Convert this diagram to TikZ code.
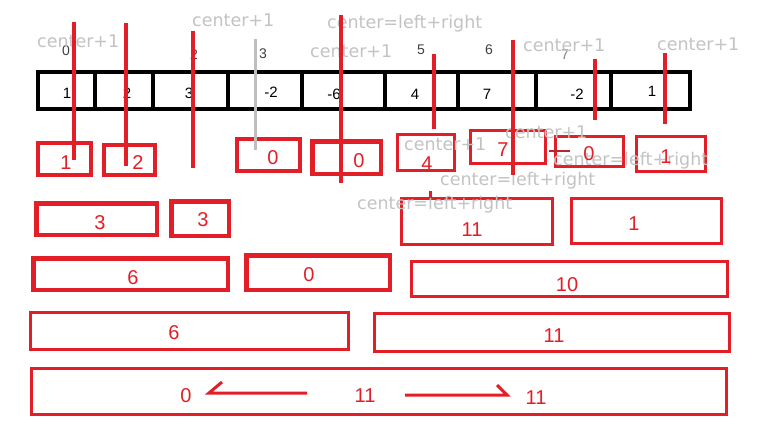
\documentclass[tikz,border=0pt]{standalone}
\usepackage{fontspec}
\setmainfont{DejaVu Sans}
\newfontfamily\digfont{Liberation Sans}
\usetikzlibrary{fit}
\definecolor{redc}{RGB}{226,31,38}
\definecolor{darkred}{RGB}{180,40,45}
\definecolor{grayt}{RGB}{195,195,195}
\definecolor{grayl}{RGB}{190,190,190}
\definecolor{idxc}{RGB}{64,64,64}
\tikzset{
 rbox/.style={draw=redc, inner sep=0pt, outer sep=0pt},
 cellbox/.style={draw=black, line width=4pt, inner sep=0pt, outer sep=0pt},
 note/.style={text=grayt, font=\fontsize{17.5}{20}\selectfont, anchor=base west, inner sep=0pt},
 rnum/.style={text=redc, font=\digfont\fontsize{20}{22}\selectfont, inner sep=0pt},
 cval/.style={text=black, font=\digfont\fontsize{15}{17}\selectfont, inner sep=0pt},
 idx/.style={text=idxc, font=\digfont\fontsize{14}{16}\selectfont, inner sep=0pt},
 rline/.style={draw=redc, line width=3.5pt},
 gline/.style={draw=grayl, line width=3pt},
 halfarrow/.style={draw=redc, line width=3pt, line join=miter},
}
\newcommand\rbx[6]{\node[rbox, line width=#6pt, fit={({#2+#6/2},{#3+#6/2}) ({#4-#6/2},{#5-#6/2})}] (#1) {};}
\newcommand\cellx[3]{\node[cellbox, fit={(#2,72) (#3,109)}] (#1) {};}
\begin{document}
\begin{tikzpicture}[x=1pt,y=-1pt]
\fill[white] (0,0) rectangle (772,439);
\useasboundingbox (0,0) rectangle (772,439);
% array cells
\cellx{c0}{38}{95}
\cellx{c1}{95}{153}
\cellx{c2}{153}{228}
\cellx{c3}{228}{302}
\cellx{c4}{302}{385}
\cellx{c5}{385}{458}
\cellx{c6}{458}{536}
\cellx{c7}{536}{611}
\cellx{c8}{611}{690}
% cell values
\node[cval] (v0) at (67,93) {1};
\node[cval] (v1) at (127,93) {2};
\node[cval] (v2) at (189,93) {3};
\node[cval] (v3) at (271,92) {-2};
\node[cval] (v4) at (334,94) {-6};
\node[cval] (v5) at (415,94) {4};
\node[cval] (v6) at (487,94) {7};
\node[cval] (v7) at (577,94) {-2};
\node[cval] (v8) at (652,91) {1};
% indices
\node[idx] (i0) at (66,51) {0};
\node[idx] (i2) at (194,55) {2};
\node[idx] (i3) at (263,54) {3};
\node[idx] (i5) at (421,50) {5};
\node[idx] (i6) at (489,50) {6};
\node[idx, text=gray] (i7) at (565,55) {7};
% red boxes row 1
\rbx{a1}{36}{141}{93}{177}{4}
\rbx{a2}{102}{143}{157}{177}{4}
\rbx{a3}{235}{137}{302}{173}{4}
\rbx{a4}{310}{139}{383}{176}{4.5}
\rbx{a5}{396}{133}{456}{172}{3}
\rbx{a6}{469}{129}{547}{165}{3}
\rbx{a7}{554}{135}{625}{168}{3}
\rbx{a8}{635}{135}{707}{173}{3}
% row 2
\rbx{b1}{34}{201}{159}{237}{4.5}
\rbx{b2}{169}{199}{231}{238}{4.5}
\rbx{b3}{400}{197}{554}{246}{3}
\rbx{b4}{570}{197}{723}{245}{3}
% row 3
\rbx{d1}{31}{256}{230}{292}{4.5}
\rbx{d2}{244}{253}{392}{292}{4.5}
\rbx{d3}{410}{260}{729}{298}{3}
% row 4
\rbx{e1}{29}{311}{350}{351}{3}
\rbx{e2}{373}{312}{731}{353}{3}
% row 5
\rbx{f1}{30}{367}{728}{416}{3}
% gray notes
\node[note] (n1) at (37,47) {center+1};
\node[note] (n2) at (192,27) {center+1};
\node[note] (n3) at (327,28) {center=left+right};
\node[note] (n4) at (310,57) {center+1};
\node[note] (n5) at (523,52) {center+1};
\node[note] (n6) at (657,50) {center+1};
\node[note] (n7) at (404,150) {center+1};
\node[note] (n8) at (505,138) {center+1};
\node[note] (n9) at (440,185) {center=left+right};
\node[note] (n10) at (357,209) {center=left+right};
\node[note] (n11) at (553,165) {center=left+right};
% red numbers
\node[rnum] (r1) at (66,163) {1};
\node[rnum] (r2) at (138,163) {2};
\node[rnum] (r3) at (273,158) {0};
\node[rnum] (r4) at (359,161) {0};
\node[rnum] (r5) at (427,164) {4};
\node[rnum] (r6) at (503,150) {7};
\node[rnum] (r7) at (589,154) {0};
\node[rnum] (r8) at (666,157) {1};
\node[rnum] (s1) at (100,223) {3};
\node[rnum] (s2) at (203,220) {3};
\node[rnum] (s3) at (472,230) {11};
\node[rnum] (s4) at (634,224) {1};
\node[rnum] (t1) at (133,278) {6};
\node[rnum] (t2) at (309,275) {0};
\node[rnum] (t3) at (567,285) {10};
\node[rnum] (u1) at (174,333) {6};
\node[rnum] (u2) at (554,336) {11};
\node[rnum] (w0) at (186,396) {0};
\node[rnum] (wm) at (365,396) {11};
\node[rnum] (wr) at (536,398) {11};
% vertical strokes
\draw[rline] (74,22) -- (74,160);
\draw[rline] (126,23) -- (126,166);
\draw[rline] (193,31) -- (193,168);
\draw[gline] (255,39) -- (255,150);
\draw[rline] (341,15) -- (341,183);
\draw[rline] (434,54) -- (434,129);
\draw[rline] (513,40) -- (513,175);
\draw[rline] (595,59) -- (595,120);
\draw[rline] (665,53) -- (665,124);
\draw[redc, line width=3pt] (430,191) -- (430,198);
\draw[darkred, line width=1.5pt] (549,151) -- (570,151);
% arrows in the last box
\coordinate (la1) at (307,393);
\coordinate (la2) at (209,393);
\coordinate (la3) at (222,382);
\coordinate (ra1) at (405,395);
\coordinate (ra2) at (507,395);
\coordinate (ra3) at (497,385);
\draw[halfarrow] (la1) -- (la2) -- (la3);
\draw[halfarrow] (ra1) -- (ra2) -- (ra3);
\end{tikzpicture}
\end{document}
